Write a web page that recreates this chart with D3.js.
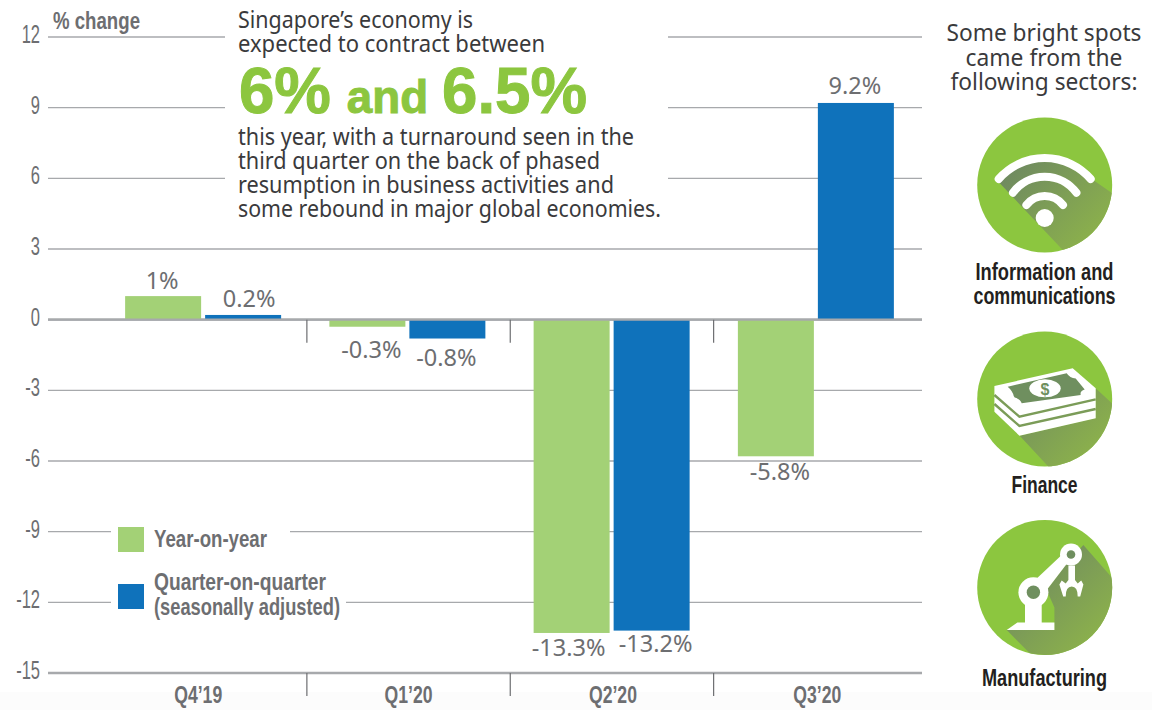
<!DOCTYPE html>
<html>
<head>
<meta charset="utf-8">
<script src="https://cdn.jsdelivr.net/npm/d3@7"></script>
<style>
html, body { margin: 0; padding: 0; background: #fff; }
svg { display: block; }
</style>
</head>
<body>
<div id="chart"></div>
<script>
// Data
var quarters = ["Q4'19", "Q1'20", "Q2'20", "Q3'20"];
var yoy = [1, -0.3, -13.3, -5.8];
var qoq = [0.2, -0.8, -13.2, 9.2];
var yoyLabels = ["1%", "-0.3%", "-13.3%", "-5.8%"];
var qoqLabels = ["0.2%", "-0.8%", "-13.2%", "9.2%"];
var yTicks = [12, 9, 6, 3, 0, -3, -6, -9, -12, -15];

var width = 1152, height = 710;
var GREEN = "#a3d176", BLUE = "#0f72bb", ICON = "#8cc63f", GREY = "#6d6e71", LINE = "#a7a9ac";
var NARROW = "'Liberation Sans', sans-serif";
var SANS = "'Noto Sans', sans-serif";

var svg = d3.select("#chart").append("svg")
    .attr("width", width).attr("height", height)
    .attr("viewBox", [0, 0, width, height]);

var defs = svg.append("defs");
var grad = defs.append("linearGradient").attr("id", "shadow")
    .attr("gradientUnits", "userSpaceOnUse")
    .attr("x1", -25).attr("y1", -25).attr("x2", 50).attr("y2", 50);
grad.append("stop").attr("offset", "0%").attr("stop-color", "#6f8a60");
grad.append("stop").attr("offset", "100%").attr("stop-color", "#8bb04c");

// faint off-white strip along the bottom of the scan
svg.append("rect").attr("x", 0).attr("y", 692).attr("width", width).attr("height", 18).attr("fill", "#fcfcfc");

// Scales
var y = d3.scaleLinear().domain([-15, 12]).range([673, 37]);
var x = d3.scaleBand().domain(quarters).range([101, 918]);
var sepX = d3.scaleBand().domain(quarters).range([103.5, 917]);
var barW = 76, barGap = 4;

// Gridlines, broken behind the text blocks
var gridGaps = { "12": [225, 668], "9": [225, 668], "6": [225, 668], "-9": [111, 290], "-12": [111, 346] };
var grid = svg.append("g");
yTicks.forEach(function (t) {
    var segs = gridGaps[t] ? [[48, gridGaps[t][0]], [gridGaps[t][1], 922]] : [[48, 922]];
    segs.forEach(function (s) {
        grid.append("line")
            .attr("x1", s[0]).attr("x2", s[1])
            .attr("y1", y(t)).attr("y2", y(t))
            .attr("stroke", LINE)
            .attr("stroke-width", (t === 0 || t === -15) ? 2.4 : 1.3);
    });
});

// Y axis labels
var yAxis = d3.axisLeft(y).tickValues(yTicks).tickSize(0).tickPadding(0).tickFormat(d3.format("d"));
var yG = svg.append("g").attr("transform", "translate(40,0)").call(yAxis);
yG.select(".domain").remove();
yG.selectAll("text")
    .attr("font-family", NARROW).attr("font-size", 25).attr("fill", GREY)
    .attr("dy", "5.5px").attr("transform", "scale(0.66,1)")
    .text(function (d) { return d; });

// Bars
function barRect(sel, values, cls, fill, offset) {
    sel.selectAll("rect." + cls).data(values).join("rect")
        .attr("class", cls)
        .attr("x", function (d, i) { return x(quarters[i]) + x.bandwidth() / 2 + offset; })
        .attr("width", barW)
        .attr("y", function (d) { return y(Math.max(0, d)); })
        .attr("height", function (d) { return Math.abs(y(d) - y(0)); })
        .attr("fill", fill);
}
var bars = svg.append("g");
barRect(bars, yoy, "yoy", GREEN, -barW - barGap / 2);
barRect(bars, qoq, "qoq", BLUE, barGap / 2);

// Zero line on top of the bars, quarter separators
svg.append("line").attr("x1", 48).attr("x2", 922).attr("y1", y(0)).attr("y2", y(0))
    .attr("stroke", LINE).attr("stroke-width", 2.4);
quarters.slice(1).forEach(function (q) {
    var px = sepX(q);
    [y(0), y(-15)].forEach(function (top) {
        svg.append("line").attr("x1", px).attr("x2", px)
            .attr("y1", top).attr("y2", top + 23)
            .attr("stroke", GREY).attr("stroke-width", 1.2);
    });
});

// helper for fitted text
function label(txt, px, py, opts) {
    var t = svg.append("text").attr("x", px).attr("y", py)
        .attr("font-family", opts.family).attr("font-size", opts.size)
        .attr("font-weight", opts.weight || 400)
        .attr("fill", opts.fill)
        .attr("text-anchor", opts.anchor || "start")
        .text(txt);
    if (opts.len) t.attr("textLength", opts.len).attr("lengthAdjust", "spacingAndGlyphs");
    return t;
}

// Quarter labels
var quarterNudge = [-7, 0, 1, 2];
quarters.forEach(function (q, i) {
    label(q.replace("'", "\u2019"), sepX(q) + sepX.bandwidth() / 2 + quarterNudge[i], 703,
        { family: NARROW, weight: 700, size: 23, fill: GREY, anchor: "middle", len: 48 });
});

// Value labels (hand nudged in the original)
var yoyNudge = [[-1, -7], [4, 31], [-3, 23], [4, 24]];
var qoqNudge = [[6, -8], [-1, 27], [4, 21], [-1, -9]];
function valueLabels(values, labels, nudge, offset) {
    values.forEach(function (v, i) {
        svg.append("text")
            .attr("x", x(quarters[i]) + x.bandwidth() / 2 + offset + nudge[i][0])
            .attr("y", y(v) + nudge[i][1])
            .attr("text-anchor", "middle")
            .attr("font-family", SANS).attr("font-size", 23.5).attr("fill", GREY)
            .text(labels[i]);
    });
}
valueLabels(yoy, yoyLabels, yoyNudge, -barW / 2 - barGap / 2);
valueLabels(qoq, qoqLabels, qoqNudge, barW / 2 + barGap / 2);

// "% change"
label("% change", 53, 29, { family: NARROW, weight: 700, size: 24, fill: GREY, len: 87 });

// Legend
var legend = svg.append("g");
legend.append("rect").attr("x", 118).attr("y", 527).attr("width", 26).attr("height", 25).attr("fill", GREEN);
legend.append("rect").attr("x", 118).attr("y", 584).attr("width", 26).attr("height", 25).attr("fill", BLUE);
label("Year-on-year", 154, 547, { family: NARROW, weight: 700, size: 24, fill: GREY, len: 113 });
label("Quarter-on-quarter", 154, 590, { family: NARROW, weight: 700, size: 24, fill: GREY, len: 172 });
label("(seasonally adjusted)", 154, 615, { family: NARROW, weight: 700, size: 24, fill: GREY, len: 186 });

// Headline block
var INK = "#3a3a3c";
label("Singapore\u2019s economy is", 238, 28, { family: SANS, size: 23.5, fill: INK, len: 235 });
label("expected to contract between", 238, 52, { family: SANS, size: 23.5, fill: INK, len: 307 });
var big = svg.append("text").attr("x", 239).attr("y", 113)
    .attr("font-family", "'Liberation Sans', sans-serif").attr("font-weight", 700)
    .attr("fill", "#8cc63f").attr("stroke", "#8cc63f").attr("stroke-width", 1)
    .attr("textLength", 348).attr("lengthAdjust", "spacingAndGlyphs");
big.append("tspan").attr("font-size", 64).text("6%");
big.append("tspan").attr("font-size", 46).attr("dx", 16).text("and");
big.append("tspan").attr("font-size", 64).attr("dx", 14).text("6.5%");
label("this year, with a turnaround seen in the", 238, 145, { family: SANS, size: 23.5, fill: INK, len: 396 });
label("third quarter on the back of phased", 238, 169, { family: SANS, size: 23.5, fill: INK, len: 362 });
label("resumption in business activities and", 238, 193, { family: SANS, size: 23.5, fill: INK, len: 376 });
label("some rebound in major global economies.", 238, 217, { family: SANS, size: 23.5, fill: INK, len: 423 });

// Right column
label("Some bright spots", 1044, 41, { family: SANS, size: 23.5, fill: INK, anchor: "middle", len: 195 });
label("came from the", 1044, 66, { family: SANS, size: 23.5, fill: INK, anchor: "middle", len: 157 });
label("following sectors:", 1044, 90, { family: SANS, size: 23.5, fill: INK, anchor: "middle", len: 187 });

label("Information and", 1044.5, 280, { family: NARROW, weight: 700, size: 23, fill: "#231f20", anchor: "middle", len: 138 });
label("communications", 1044.5, 304, { family: NARROW, weight: 700, size: 23, fill: "#231f20", anchor: "middle", len: 142 });
label("Finance", 1044.5, 493, { family: NARROW, weight: 700, size: 23, fill: "#231f20", anchor: "middle", len: 66 });
label("Manufacturing", 1044.5, 686, { family: NARROW, weight: 700, size: 23, fill: "#231f20", anchor: "middle", len: 125 });

// Icons
var R = 67.5;
function icon(id, cx, cy) {
    defs.append("clipPath").attr("id", id).append("circle").attr("r", R);
    var g = svg.append("g").attr("transform", "translate(" + cx + "," + cy + ")");
    g.append("circle").attr("r", R).attr("fill", ICON);
    return g;
}
function shadow(g, id, d) {
    g.append("path").attr("d", d).attr("fill", "url(#shadow)").attr("clip-path", "url(#" + id + ")");
}

// wifi
var wifi = icon("c1", 1044.7, 185);
shadow(wifi, "c1", "M-47,-4 A61,61 0 0 1 47,-6 L70,10 L75,75 L19,66 Z");
[[61, 46, -6], [39.4, 31.7, 7.7], [23, 18.3, 20]].forEach(function (a) {
    wifi.append("path")
        .attr("d", "M" + (-a[1]) + "," + a[2] + " A" + a[0] + "," + a[0] + " 0 0 1 " + a[1] + "," + a[2])
        .attr("fill", "none").attr("stroke", "#fff").attr("stroke-width", 8).attr("stroke-linecap", "round");
});
wifi.append("circle").attr("cy", 33).attr("r", 9).attr("fill", "#fff");

// money
var money = icon("c2", 1044.7, 399);
shadow(money, "c2", "M-25,36.7 L51,19 L51,-10.7 L68,5 L75,75 L4,68 Z");
money.append("path").attr("d", "M-50.3,-13 L28,-30.7 L51,-10.7 L51,19.3 L-25.3,36.7 L-50.3,12.7 Z").attr("fill", "#fff");
[[-4, 17.7, 0.3], [5, 27, 10]].forEach(function (l) {
    money.append("path")
        .attr("d", "M-50.3," + l[0] + " L-25.3," + l[1] + " L51," + l[2])
        .attr("fill", "none").attr("stroke", "#7b9c58").attr("stroke-width", 2.4);
});
money.append("path").attr("d", "M-37,-12.3 L22,-25.7 Q25,-21 31,-20.5 L40,-9.5 Q35,-8 36,-4 L-23,4.3 Q-24,0 -30,-1.5 L-31,-3 Q-32,-8 -37,-12.3 Z").attr("fill", "#6f8f5f");
money.append("ellipse").attr("cy", -10.7).attr("cx", 0.3).attr("rx", 15.7).attr("ry", 9).attr("fill", "#fff");
money.append("text").attr("x", 0.3).attr("y", -4.5).attr("text-anchor", "middle")
    .attr("font-family", "'Liberation Sans', sans-serif").attr("font-weight", 700).attr("font-size", 16)
    .attr("fill", "#6f8f5f").text("$");

// robot arm
var robot = icon("c3", 1044.7, 587.5);
shadow(robot, "c3", "M-38,42.5 L9.7,42.5 L9.7,20 L2,2.5 L25,-28 L38.7,-42.5 L68,-9 L75,75 L-14.7,66 Z");
robot.append("path").attr("d", "M-38,42.5 L-27.3,35 L-19.7,35 L-19.7,15 L-3,15 L-3,35 L9.7,35 L9.7,42.5 Z").attr("fill", "#fff");
robot.append("path").attr("d", "M-8,-9 L17,-32.5 L25,-27.5 L2,2.5 Z").attr("fill", "#fff");
robot.append("circle").attr("cx", -11.3).attr("cy", 4.8).attr("r", 15).attr("fill", "#fff");
robot.append("circle").attr("cx", -11.3).attr("cy", 4.8).attr("r", 6.7).attr("fill", "#6f8f5f");
robot.append("circle").attr("cx", 26.3).attr("cy", -33).attr("r", 11).attr("fill", "#fff");
robot.append("circle").attr("cx", 26.3).attr("cy", -33).attr("r", 4.3).attr("fill", "#6f8f5f");
robot.append("path").attr("d", "M23.7,-22 L30.3,-22 L30.3,-7.5 L33,-4 L36.5,-7 L38.7,-3 L35.5,9 L33,9 Q33,-1 27,-1 Q21,-1 21,9 L18.5,9 L14.7,-3 L17,-7 L21,-4 L23.7,-7.5 Z").attr("fill", "#fff");
</script>
</body>
</html>
